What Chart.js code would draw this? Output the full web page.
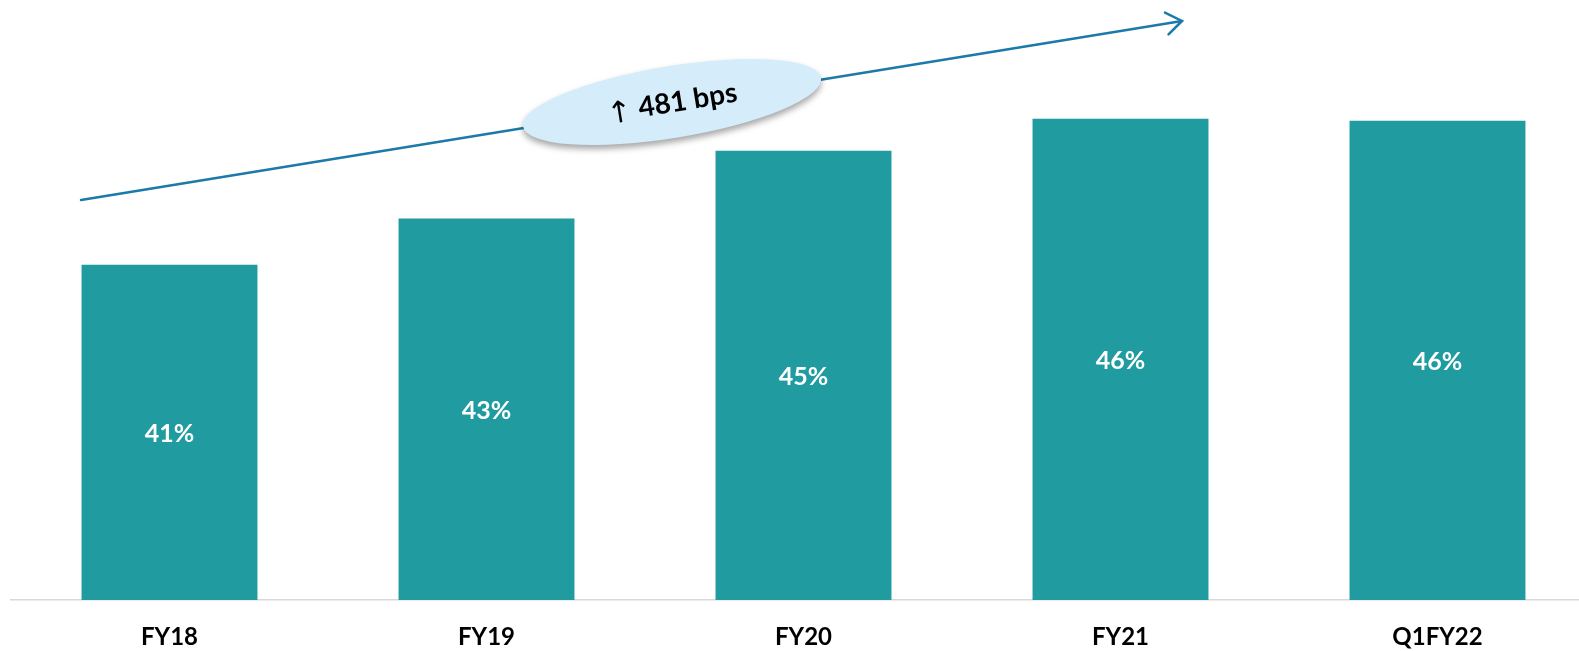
<!DOCTYPE html>
<html>
<head>
<meta charset="utf-8">
<script src="https://cdn.jsdelivr.net/npm/chart.js@4.4.1/dist/chart.umd.min.js"></script>
<style>
  html, body { margin: 0; padding: 0; background: #fff; overflow: hidden; }
  #wrap { position: absolute; left: 0; top: 0; width: 1600px; height: 651px; }
</style>
</head>
<body>
<div id="wrap"><canvas id="chart" width="1600" height="651"></canvas></div>
<script>
const categories = ['FY18', 'FY19', 'FY20', 'FY21', 'Q1FY22'];
const marginPct = [41.19, 42.74, 45.0, 46.07, 46.0];
const valueLabels = ['41%', '43%', '45%', '46%', '46%'];
const bpsText = '481 bps';

const barColor = '#209ba0';
const arrowColor = '#1b7aa8';

// values drawn inside bars, then the trend arrow with its ellipse callout
const overlay = {
  id: 'overlay',
  afterDraw(chart) {
    const ctx = chart.ctx;
    const xs = chart.scales.x, ys = chart.scales.y;
    ctx.save();
    ctx.fillStyle = '#ffffff';
    ctx.font = 'bold 25px Lato, sans-serif';
    ctx.textAlign = 'center';
    ctx.textBaseline = 'middle';
    valueLabels.forEach((txt, i) => {
      const top = ys.getPixelForValue(marginPct[i]);
      const bottom = chart.chartArea.bottom;
      ctx.fillText(txt, xs.getPixelForValue(i), (top + bottom) / 2 + 2);
    });
    ctx.restore();

    const x0 = 81, y0 = 200, x1 = 1182, y1 = 21;
    const ang = Math.atan2(y1 - y0, x1 - x0);
    ctx.save();
    ctx.strokeStyle = arrowColor;
    ctx.lineWidth = 2.5;
    ctx.lineCap = 'round';
    ctx.beginPath();
    ctx.moveTo(x0, y0);
    ctx.lineTo(x1, y1);
    ctx.stroke();
    const hl = 19, ha = 0.62;
    ctx.beginPath();
    ctx.moveTo(x1 - hl * Math.cos(ang - ha), y1 - hl * Math.sin(ang - ha));
    ctx.lineTo(x1, y1);
    ctx.lineTo(x1 - hl * Math.cos(ang + ha), y1 - hl * Math.sin(ang + ha));
    ctx.stroke();

    const cx = 672, cy = 102;
    ctx.translate(cx, cy);
    ctx.rotate(ang);
    ctx.shadowColor = 'rgba(0,0,0,0.35)';
    ctx.shadowBlur = 6;
    ctx.shadowOffsetY = 4;
    ctx.fillStyle = '#d5edfb';
    ctx.beginPath();
    ctx.ellipse(0, 0, 151, 36, 0, 0, Math.PI * 2);
    ctx.fill();
    ctx.shadowColor = 'transparent';

    ctx.fillStyle = '#000';
    ctx.textBaseline = 'middle';
    ctx.textAlign = 'left';
    ctx.font = '30px "DejaVu Sans", sans-serif';
    ctx.fillText('\u2191', -66, 4);
    ctx.font = 'bold 28px Lato, sans-serif';
    ctx.fillText(bpsText, -34, 1);
    ctx.restore();
  }
};

new Chart(document.getElementById('chart'), {
  type: 'bar',
  data: {
    labels: categories,
    datasets: [{
      data: marginPct,
      backgroundColor: barColor,
      borderWidth: 0,
      categoryPercentage: 1,
      barPercentage: 0.555
    }]
  },
  options: {
    responsive: false,
    animation: false,
    layout: { padding: { left: 11, right: 4, top: 1, bottom: 0 } },
    plugins: { legend: { display: false }, tooltip: { enabled: false } },
    scales: {
      x: {
        grid: { display: false, drawTicks: false },
        border: { display: true, color: '#d9d9d9', width: 1.5 },
        ticks: {
          color: '#000',
          padding: 25,
          font: { family: 'Lato, sans-serif', size: 24, weight: 'bold', lineHeight: 1 }
        },
        afterFit(scale) { scale.height = 51; }
      },
      y: {
        display: false,
        min: 30,
        max: 50
      }
    }
  },
  plugins: [overlay]
});
</script>
</body>
</html>
